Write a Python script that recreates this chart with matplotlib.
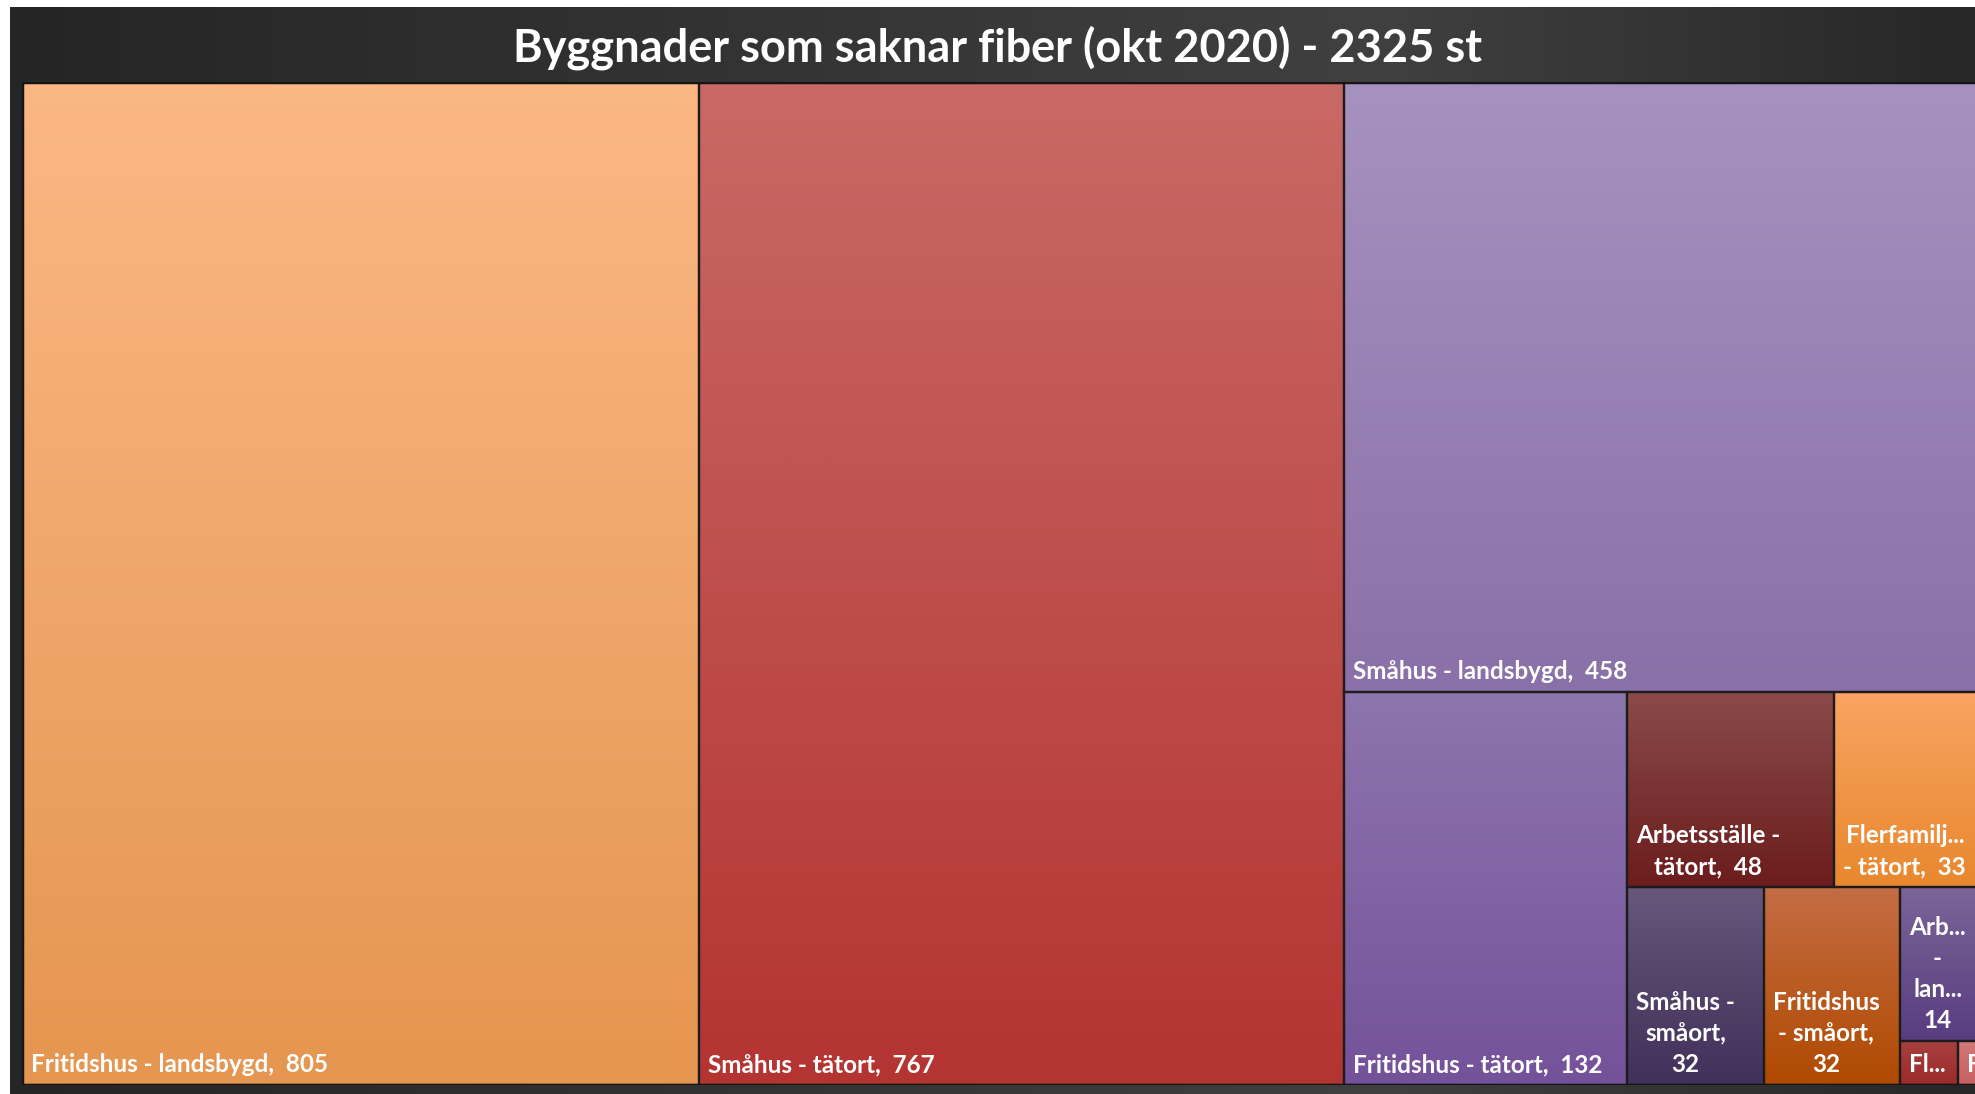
import numpy as np
import matplotlib.pyplot as plt
from matplotlib.colors import LinearSegmentedColormap
from matplotlib.patches import Rectangle

plt.rcParams['font.family'] = ['Lato', 'DejaVu Sans']

# data
names = ['Fritidshus - landsbygd', 'Småhus - tätort', 'Småhus - landsbygd',
         'Fritidshus - tätort', 'Arbetsställe - tätort', 'Flerfamiljshus - tätort',
         'Småhus - småort', 'Fritidshus - småort', 'Arbetsställe - landsbygd',
         'Flerfamiljshus - landsbygd', 'Flerfamiljshus - småort']
values = [805, 767, 458, 132, 48, 33, 32, 32, 14, 3, 1]
# text as excel shows it (wrapped / truncated)
shown = ['Fritidshus - landsbygd,  805', 'Småhus - tätort,  767', 'Småhus - landsbygd,  458',
         'Fritidshus - tätort,  132', 'Arbetsställe -\ntätort,  48', 'Flerfamilj...\n- tätort,  33',
         'Småhus -\nsmåort,\n32', 'Fritidshus\n- småort,\n32', 'Arb...\n-\nlan...\n14',
         'Fl...', 'F...']
top_col = ['#fbb784', '#c96965', '#a692c0', '#8d75ad', '#8a4b4b', '#f9a463',
           '#66577b', '#c46c44', '#7b6598', '#a84040', '#d07878']
bot_col = ['#e59650', '#b43432', '#8a70a8', '#74529a', '#6c1c1c', '#e8882e',
           '#41305a', '#b04a00', '#583d80', '#9c2a2a', '#c86060']
title = 'Byggnader som saknar fiber (okt 2020) - 2325 st'


def worst(row, side):
    s = sum(row)
    return max(max(side * side * r / (s * s), s * s / (side * side * r)) for r in row)


def squarify(vals, x, y, w, h):
    k = w * h / sum(vals)
    vals = [v * k for v in vals]
    out = []
    while vals:
        side = min(w, h)
        row = [vals[0]]
        i = 1
        while i < len(vals) and worst(row + [vals[i]], side) <= worst(row, side):
            row.append(vals[i])
            i += 1
        vals = vals[i:]
        s = sum(row)
        if w >= h:
            cw = s / h
            yy = y
            for r in row:
                out.append((x, yy, cw, r / cw))
                yy += r / cw
            x += cw
            w -= cw
        else:
            rh = s / w
            xx = x
            for r in row:
                out.append((xx, y, r / rh, rh))
                xx += r / rh
            y += rh
            h -= rh
    return out


W, H = 1975, 1094
fig = plt.figure(figsize=(W / 100, H / 100), dpi=100)

# dark frame
bg = fig.add_axes([10 / W, 0, 1 - 10 / W, (H - 7) / H])
bg.axis('off')
fcm = LinearSegmentedColormap.from_list('f', [(0, '#252525'), (0.7, '#404040'), (1, '#272727')])
bg.imshow(np.linspace(0, 1, 256)[None, :], cmap=fcm, aspect='auto', extent=(0, 1, 0, 1))
bg.set_xlim(0, 1)
bg.set_ylim(0, 1)

# plot area in pixels
px0, py0, px1, py1 = 22, 82, 1977, 1085
pw, ph = px1 - px0, py1 - py0
ax = fig.add_axes([px0 / W, (H - py1) / H, pw / W, ph / H])
ax.set_xlim(0, pw)
ax.set_ylim(ph, 0)
ax.axis('off')

rects = squarify(values, 0, 0, pw, ph)
grad = np.linspace(0, 1, 256)[:, None]
for (x, y, w, h), lab, c0, c1 in zip(rects, shown, top_col, bot_col):
    cm = LinearSegmentedColormap.from_list('c', [c0, c1])
    ax.imshow(grad, cmap=cm, aspect='auto', extent=(x, x + w, y + h, y), origin='upper',
              interpolation='bilinear')
    ax.add_patch(Rectangle((x, y), w, h, fill=False, ec='#1c1c1c', lw=1.6))
    ax.text(x + 9, y + h - 9, lab, color='white', fontsize=17.5, fontweight='bold',
            ha='left', va='bottom', multialignment='center', linespacing=1.42,
            clip_on=True)
ax.add_patch(Rectangle((0, 0), pw, ph, fill=False, ec='#151515', lw=2.5))
ax.set_xlim(0, pw)
ax.set_ylim(ph, 0)

fig.text(998 / W, 1 - 48 / H, title, color='white', fontsize=32.5, fontweight='bold',
         ha='center', va='center')

fig.savefig('out.png', dpi=100)
